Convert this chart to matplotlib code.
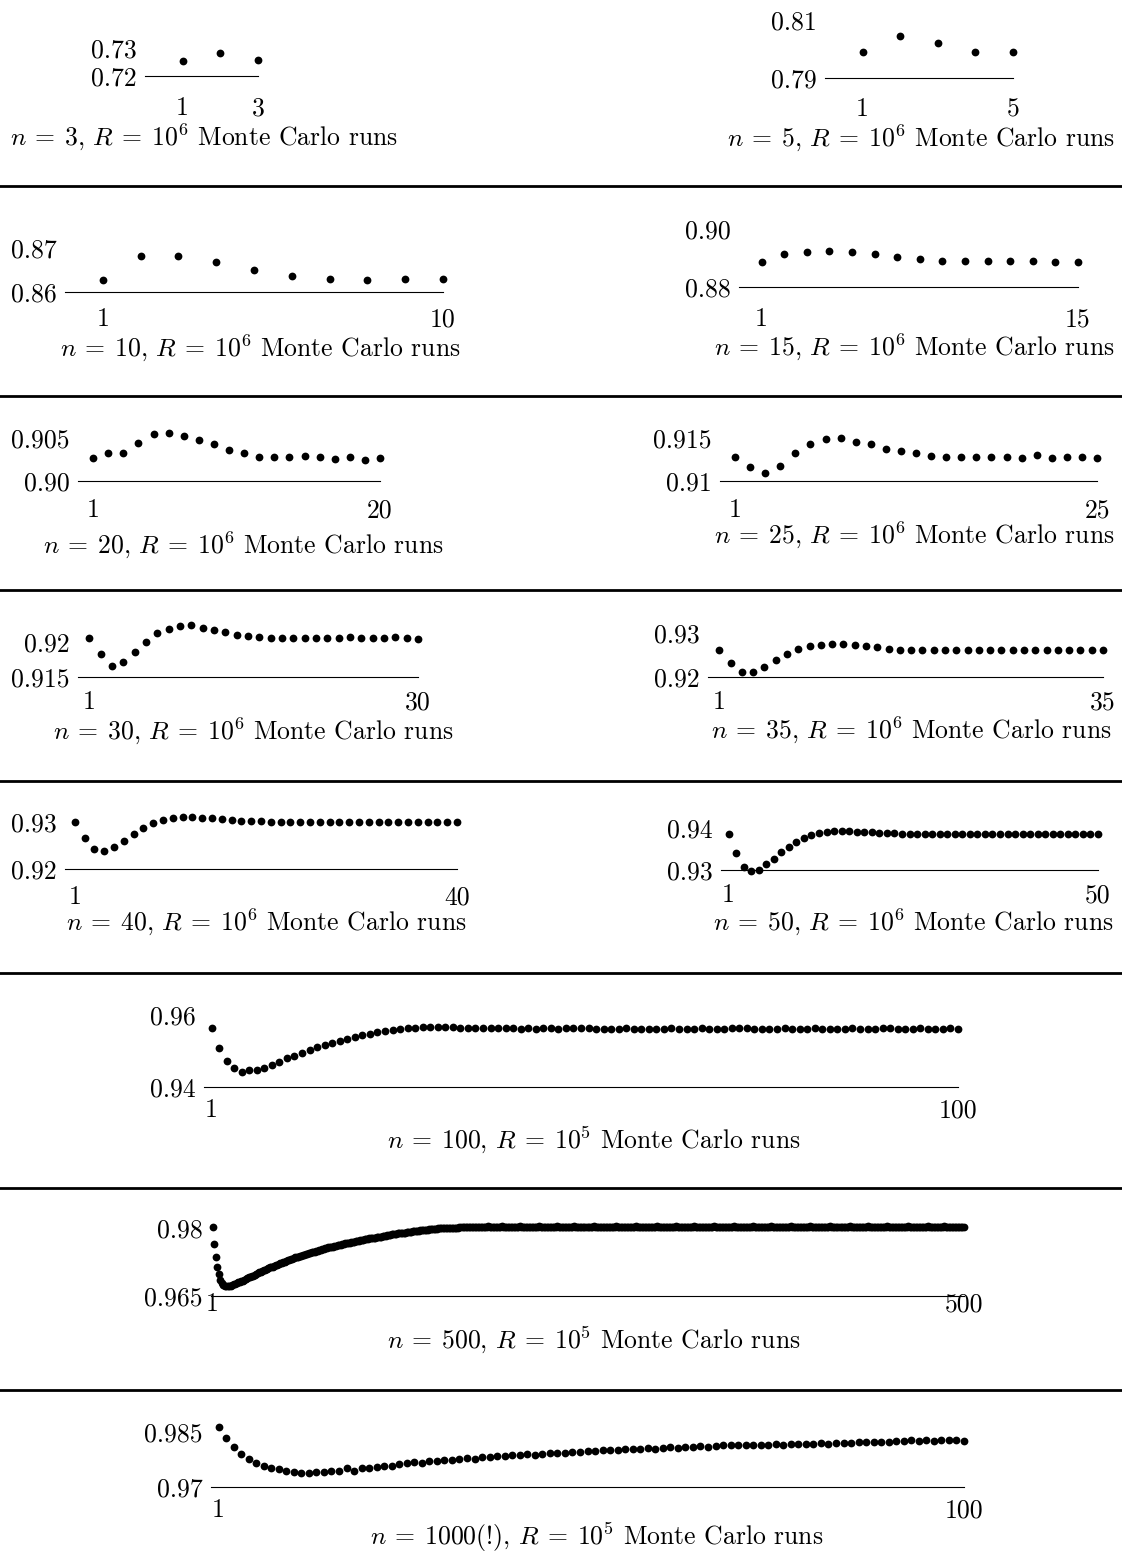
import matplotlib
matplotlib.use("Agg")
import matplotlib.pyplot as plt
from matplotlib.lines import Line2D

plt.rcParams["font.family"] = "cmr10"
plt.rcParams["mathtext.fontset"] = "cm"
plt.rcParams["axes.formatter.use_mathtext"] = True

# coverage values, one list per panel
n3 = [0.7253, 0.7282, 0.7256]
n5 = [0.7989, 0.8046, 0.8020, 0.7991, 0.7989]
n10 = [0.8628, 0.8681, 0.8681, 0.8668, 0.8651, 0.8637, 0.8629, 0.8628, 0.8629, 0.8630]
n15 = [0.8887, 0.8914, 0.8922, 0.8925, 0.8922, 0.8914, 0.8903, 0.8897, 0.8891,
       0.8889, 0.8889, 0.8890, 0.8890, 0.8887, 0.8887]
n20 = [0.90271, 0.90322, 0.90329, 0.90438, 0.90547, 0.90555, 0.90523, 0.90477, 0.90427, 0.90357,
       0.90322, 0.90283, 0.90279, 0.90279, 0.90287, 0.90279, 0.90259, 0.90283, 0.90248, 0.90271]
n25 = [0.91276, 0.91159, 0.91090, 0.91174, 0.91322, 0.91430, 0.91488, 0.91503, 0.91450, 0.91427,
       0.91376, 0.91349, 0.91326, 0.91291, 0.91283, 0.91283, 0.91283, 0.91283, 0.91283, 0.91271,
       0.91299, 0.91271, 0.91283, 0.91283, 0.91271]
n30 = [0.92062, 0.91824, 0.91653, 0.91719, 0.91862, 0.92004, 0.92124, 0.92190, 0.92229, 0.92238,
       0.92204, 0.92171, 0.92139, 0.92104, 0.92090, 0.92067, 0.92062, 0.92057, 0.92053, 0.92053,
       0.92053, 0.92053, 0.92062, 0.92067, 0.92053, 0.92053, 0.92053, 0.92071, 0.92053, 0.92048]
n35 = [0.92614, 0.92311, 0.92114, 0.92114, 0.92220, 0.92379, 0.92515, 0.92636, 0.92705, 0.92735,
       0.92750, 0.92758, 0.92735, 0.92697, 0.92674, 0.92644, 0.92621, 0.92614, 0.92606, 0.92614,
       0.92614, 0.92621, 0.92614, 0.92606, 0.92614, 0.92614, 0.92621, 0.92606, 0.92614, 0.92614,
       0.92606, 0.92614, 0.92621, 0.92614, 0.92614]
n40 = [0.92993, 0.92653, 0.92419, 0.92383, 0.92475, 0.92596, 0.92745, 0.92879, 0.92972, 0.93043,
       0.93085, 0.93106, 0.93106, 0.93092, 0.93078, 0.93057, 0.93043, 0.93028, 0.93021, 0.93014,
       0.93000, 0.92993, 0.92993, 0.93000, 0.92993, 0.92993, 0.92993, 0.93000, 0.92993, 0.92993,
       0.92993, 0.92993, 0.93000, 0.92993, 0.92993, 0.92993, 0.92993, 0.93000, 0.92993, 0.92993]
n50 = [0.93849, 0.93397, 0.93063, 0.92984, 0.93000, 0.93135, 0.93270, 0.93429, 0.93556, 0.93667,
       0.93770, 0.93833, 0.93881, 0.93905, 0.93921, 0.93929, 0.93929, 0.93913, 0.93913, 0.93897,
       0.93889, 0.93881, 0.93873, 0.93865, 0.93857, 0.93857, 0.93865, 0.93857, 0.93849, 0.93857,
       0.93857, 0.93865, 0.93857, 0.93857, 0.93849, 0.93857, 0.93857, 0.93857, 0.93865, 0.93857,
       0.93857, 0.93849, 0.93857, 0.93857, 0.93865, 0.93857, 0.93857, 0.93857, 0.93849, 0.93857]
n100 = [0.95633, 0.95083, 0.94716, 0.94514, 0.94413, 0.94459, 0.94486, 0.94532, 0.94615, 0.94706,
        0.94807, 0.94853, 0.94945, 0.95037, 0.95110, 0.95156, 0.95220, 0.95266, 0.95330, 0.95385,
        0.95440, 0.95477, 0.95514, 0.95550, 0.95587, 0.95606, 0.95633, 0.95651, 0.95661, 0.95670,
        0.95661, 0.95670, 0.95661, 0.95651, 0.95651, 0.95642, 0.95642, 0.95633, 0.95642, 0.95633,
        0.95633, 0.95624, 0.95633, 0.95624, 0.95642, 0.95633, 0.95624, 0.95633, 0.95642, 0.95651,
        0.95633, 0.95615, 0.95624, 0.95606, 0.95624, 0.95633, 0.95624, 0.95615, 0.95624, 0.95615,
        0.95624, 0.95633, 0.95624, 0.95615, 0.95624, 0.95633, 0.95624, 0.95615, 0.95624, 0.95633,
        0.95642, 0.95633, 0.95624, 0.95624, 0.95615, 0.95624, 0.95633, 0.95624, 0.95615, 0.95624,
        0.95633, 0.95624, 0.95615, 0.95624, 0.95606, 0.95633, 0.95624, 0.95615, 0.95624, 0.95633,
        0.95642, 0.95624, 0.95615, 0.95624, 0.95633, 0.95624, 0.95615, 0.95624, 0.95633, 0.95624]
n500 = [0.9802, 0.9765, 0.9736, 0.9714, 0.9698, 0.9686, 0.9679, 0.9675, 0.9672, 0.9671,
        0.9671, 0.9672, 0.9673, 0.9674, 0.9676, 0.9677, 0.9678, 0.9680, 0.9681, 0.9683,
        0.9684, 0.9686, 0.9687, 0.9689, 0.9691, 0.9692, 0.9694, 0.9695, 0.9697, 0.9699,
        0.9700, 0.9702, 0.9703, 0.9705, 0.9707, 0.9708, 0.9710, 0.9711, 0.9713, 0.9714,
        0.9715, 0.9717, 0.9718, 0.9719, 0.9721, 0.9722, 0.9723, 0.9725, 0.9726, 0.9727,
        0.9729, 0.9730, 0.9731, 0.9732, 0.9734, 0.9735, 0.9736, 0.9737, 0.9738, 0.9739,
        0.9740, 0.9741, 0.9742, 0.9743, 0.9744, 0.9745, 0.9746, 0.9747, 0.9748, 0.9749,
        0.9750, 0.9751, 0.9752, 0.9754, 0.9754, 0.9755, 0.9756, 0.9757, 0.9758, 0.9758,
        0.9759, 0.9760, 0.9761, 0.9762, 0.9762, 0.9763, 0.9764, 0.9765, 0.9766, 0.9766,
        0.9767, 0.9768, 0.9769, 0.9769, 0.9770, 0.9771, 0.9771, 0.9772, 0.9773, 0.9773,
        0.9774, 0.9775, 0.9775, 0.9776, 0.9777, 0.9777, 0.9778, 0.9778, 0.9779, 0.9780,
        0.9780, 0.9781, 0.9781, 0.9782, 0.9783, 0.9783, 0.9784, 0.9784, 0.9785, 0.9786,
        0.9786, 0.9787, 0.9787, 0.9788, 0.9788, 0.9789, 0.9789, 0.9790, 0.9790, 0.9791,
        0.9791, 0.9792, 0.9792, 0.9793, 0.9793, 0.9793, 0.9794, 0.9794, 0.9795, 0.9795,
        0.9795, 0.9796, 0.9796, 0.9796, 0.9797, 0.9797, 0.9797, 0.9798, 0.9798, 0.9798,
        0.9799, 0.9799, 0.9799, 0.9799, 0.9800, 0.9800, 0.9800, 0.9800, 0.9801, 0.9801,
        0.9801, 0.9801, 0.9801, 0.9801, 0.9802, 0.9802, 0.9802, 0.9802, 0.9802, 0.9802,
        0.9802, 0.9802, 0.9802, 0.9803, 0.9803, 0.9803, 0.9803, 0.9803, 0.9803, 0.9803,
        0.9803, 0.9803, 0.9803, 0.9804, 0.9803, 0.9803, 0.9803, 0.9803, 0.9802, 0.9803,
        0.9803, 0.9803, 0.9804, 0.9803, 0.9803, 0.9803, 0.9803, 0.9803, 0.9803, 0.9802,
        0.9803, 0.9803, 0.9803, 0.9803, 0.9804, 0.9803, 0.9803, 0.9803, 0.9803, 0.9803,
        0.9803, 0.9802, 0.9803, 0.9803, 0.9803, 0.9803, 0.9803, 0.9804, 0.9803, 0.9803,
        0.9803, 0.9803, 0.9803, 0.9803, 0.9802, 0.9803, 0.9803, 0.9803, 0.9803, 0.9804,
        0.9803, 0.9803, 0.9803, 0.9803, 0.9803, 0.9803, 0.9803, 0.9802, 0.9803, 0.9803,
        0.9804, 0.9803, 0.9803, 0.9803, 0.9803, 0.9803, 0.9803, 0.9803, 0.9803, 0.9802,
        0.9803, 0.9803, 0.9803, 0.9804, 0.9803, 0.9803, 0.9803, 0.9803, 0.9803, 0.9803,
        0.9803, 0.9803, 0.9802, 0.9803, 0.9803, 0.9803, 0.9803, 0.9803, 0.9804, 0.9803,
        0.9803, 0.9803, 0.9803, 0.9803, 0.9803, 0.9802, 0.9803, 0.9803, 0.9803, 0.9803,
        0.9803, 0.9804, 0.9803, 0.9803, 0.9803, 0.9803, 0.9803, 0.9803, 0.9802, 0.9803,
        0.9803, 0.9803, 0.9803, 0.9803, 0.9803, 0.9804, 0.9803, 0.9803, 0.9803, 0.9803,
        0.9802, 0.9803, 0.9803, 0.9803, 0.9803, 0.9803, 0.9803, 0.9803, 0.9804, 0.9803,
        0.9803, 0.9803, 0.9802, 0.9803, 0.9803, 0.9803, 0.9803, 0.9803, 0.9803, 0.9803,
        0.9804, 0.9803, 0.9803, 0.9803, 0.9803, 0.9802, 0.9803, 0.9803, 0.9803, 0.9803,
        0.9803, 0.9803, 0.9803, 0.9804, 0.9803, 0.9803, 0.9803, 0.9803, 0.9803, 0.9802,
        0.9803, 0.9803, 0.9803, 0.9803, 0.9803, 0.9803, 0.9804, 0.9803, 0.9803, 0.9803,
        0.9803, 0.9802, 0.9803, 0.9803, 0.9803, 0.9803, 0.9803, 0.9803, 0.9803, 0.9804,
        0.9803, 0.9803, 0.9803, 0.9803, 0.9802, 0.9803, 0.9803, 0.9803, 0.9803, 0.9803,
        0.9803, 0.9804, 0.9803, 0.9803, 0.9803, 0.9803, 0.9803, 0.9802, 0.9803, 0.9803,
        0.9803, 0.9803, 0.9803, 0.9803, 0.9804, 0.9803, 0.9803, 0.9803, 0.9803, 0.9803,
        0.9802, 0.9803, 0.9803, 0.9803, 0.9803, 0.9803, 0.9803, 0.9804, 0.9803, 0.9803,
        0.9803, 0.9803, 0.9803, 0.9802, 0.9803, 0.9803, 0.9803, 0.9803, 0.9803, 0.9803,
        0.9804, 0.9803, 0.9803, 0.9803, 0.9803, 0.9803, 0.9802, 0.9803, 0.9803, 0.9803,
        0.9803, 0.9803, 0.9803, 0.9804, 0.9803, 0.9803, 0.9803, 0.9803, 0.9803, 0.9803,
        0.9802, 0.9803, 0.9803, 0.9803, 0.9803, 0.9804, 0.9803, 0.9803, 0.9803, 0.9803,
        0.9803, 0.9803, 0.9802, 0.9803, 0.9803, 0.9803, 0.9803, 0.9803, 0.9804, 0.9803,
        0.9803, 0.9803, 0.9803, 0.9803, 0.9803, 0.9802, 0.9803, 0.9803, 0.9803, 0.9803,
        0.9803, 0.9803, 0.9804, 0.9803, 0.9803, 0.9803, 0.9803, 0.9803, 0.9802, 0.9803,
        0.9803, 0.9803, 0.9803, 0.9803, 0.9803, 0.9804, 0.9803, 0.9803, 0.9803, 0.9803,
        0.9803, 0.9802, 0.9803, 0.9803, 0.9803, 0.9803, 0.9804, 0.9803, 0.9803, 0.9803,
        0.9803, 0.9803, 0.9803, 0.9803, 0.9802, 0.9803, 0.9803, 0.9803, 0.9803, 0.9803]
n1000 = [0.98635, 0.98348, 0.98096, 0.97898, 0.97755, 0.97647, 0.97575, 0.97530, 0.97485, 0.97440,
         0.97422, 0.97395, 0.97377, 0.97413, 0.97422, 0.97440, 0.97449, 0.97512, 0.97449, 0.97530,
         0.97530, 0.97557, 0.97575, 0.97584, 0.97620, 0.97647, 0.97692, 0.97647, 0.97710, 0.97719,
         0.97728, 0.97737, 0.97755, 0.97782, 0.97755, 0.97827, 0.97809, 0.97845, 0.97854, 0.97872,
         0.97872, 0.97889, 0.97881, 0.97898, 0.97934, 0.97916, 0.97934, 0.97943, 0.97952, 0.97988,
         0.97988, 0.98006, 0.98015, 0.98006, 0.98024, 0.98033, 0.98024, 0.98051, 0.98042, 0.98060,
         0.98078, 0.98069, 0.98096, 0.98087, 0.98114, 0.98096, 0.98123, 0.98141, 0.98132, 0.98141,
         0.98150, 0.98132, 0.98159, 0.98150, 0.98168, 0.98159, 0.98177, 0.98168, 0.98186, 0.98177,
         0.98195, 0.98186, 0.98204, 0.98195, 0.98213, 0.98222, 0.98222, 0.98231, 0.98222, 0.98240,
         0.98258, 0.98249, 0.98276, 0.98258, 0.98276, 0.98267, 0.98285, 0.98276, 0.98276, 0.98258]

W, H = 1122, 1552
FS = 18.5
EM = FS * 100 / 72


def caption(n, r):
    return r"$n\:=\:%s$, $R\:=\:10^%d$ Monte Carlo runs" % (n, r)


# panel layout in pixels: axis line x0..x1 at yb, upper tick at yt
panels = [
    dict(vals=n3, n=3, cap=caption("3", 6), x0=145, x1=258, yb=76, yt=48,
         lo=0.72, hi=0.73, labs=("0.72", "0.73"), xty=106, cx=204, cy=137),
    dict(vals=n5, n=5, cap=caption("5", 6), x0=825, x1=1013, yb=78, yt=20,
         lo=0.79, hi=0.81, labs=("0.79", "0.81"), xty=107, cx=921, cy=138),
    dict(vals=n10, n=10, cap=caption("10", 6), x0=65, x1=443, yb=292, yt=248,
         lo=0.86, hi=0.87, labs=("0.86", "0.87"), xty=317, cx=260, cy=348),
    dict(vals=n15, n=15, cap=caption("15", 6), x0=739, x1=1078, yb=287, yt=229,
         lo=0.88, hi=0.90, labs=("0.88", "0.90"), xty=317, cx=914, cy=347),
    dict(vals=n20, n=20, cap=caption("20", 6), x0=78, x1=380, yb=481, yt=438,
         lo=0.90, hi=0.905, labs=("0.90", "0.905"), xty=508, cx=243, cy=545),
    dict(vals=n25, n=25, cap=caption("25", 6), x0=720, x1=1097, yb=481, yt=438,
         lo=0.91, hi=0.915, labs=("0.91", "0.915"), xty=508, cx=914, cy=535),
    dict(vals=n30, n=30, cap=caption("30", 6), x0=78, x1=418, yb=677, yt=642,
         lo=0.915, hi=0.92, labs=("0.915", "0.92"), xty=700, cx=253, cy=731),
    dict(vals=n35, n=35, cap=caption("35", 6), x0=708, x1=1103, yb=677, yt=633,
         lo=0.92, hi=0.93, labs=("0.92", "0.93"), xty=700, cx=911, cy=730),
    dict(vals=n40, n=40, cap=caption("40", 6), x0=65, x1=457, yb=869, yt=822,
         lo=0.92, hi=0.93, labs=("0.92", "0.93"), xty=895, cx=266, cy=922),
    dict(vals=n50, n=50, cap=caption("50", 6), x0=721, x1=1098, yb=870, yt=828,
         lo=0.93, hi=0.94, labs=("0.93", "0.94"), xty=893, cx=913, cy=922),
    dict(vals=n100, n=100, cap=caption("100", 5), x0=204, x1=958, yb=1087, yt=1015,
         lo=0.94, hi=0.96, labs=("0.94", "0.96"), xty=1108, cx=594, cy=1140),
    dict(vals=n500, n=500, cap=caption("500", 5), x0=211, x1=964, yb=1296, yt=1228,
         lo=0.965, hi=0.98, labs=("0.965", "0.98"), xty=1302, cx=594, cy=1340),
    dict(vals=n1000, n=100, cap=r"$n\:=\:1000$(!), $R\:=\:10^5$ Monte Carlo runs", x0=211, x1=964,
         yb=1487, yt=1432, lo=0.97, hi=0.985, labs=("0.97", "0.985"), xty=1508, cx=597, cy=1537),
]
separators = [186, 396, 590, 781, 973, 1188, 1390]

fig = plt.figure(figsize=(W / 100, H / 100), dpi=100)

for p in panels:
    ax = fig.add_axes([p["x0"] / W, 1 - p["yb"] / H, (p["x1"] - p["x0"]) / W, (p["yb"] - p["yt"]) / H])
    ax.patch.set_visible(False)
    xs = list(range(1, len(p["vals"]) + 1))
    ax.plot(xs, p["vals"], "o", color="black", ms=5.6, mew=0, clip_on=False, zorder=3)
    ax.set_xlim(0, p["n"])
    ax.set_ylim(p["lo"], p["hi"])
    for s in ["top", "right", "left"]:
        ax.spines[s].set_visible(False)
    ax.spines["bottom"].set_linewidth(0.8)
    ax.set_xticks([1, p["n"]])
    ax.set_xticklabels(["1", str(p["n"])])
    ax.set_yticks([p["lo"], p["hi"]])
    ax.set_yticklabels(p["labs"])
    pad = (p["xty"] - p["yb"] - 0.36 * EM) * 0.72
    ax.tick_params(length=0, labelsize=FS)
    ax.tick_params(axis="x", pad=pad)
    ax.tick_params(axis="y", pad=6)
    fig.text(p["cx"] / W, 1 - p["cy"] / H, p["cap"], ha="center", va="center", fontsize=FS)

for y in separators:
    fig.add_artist(Line2D([0, 1], [1 - y / H, 1 - y / H], color="black", lw=2.0))

fig.savefig("out.png", dpi=100)
